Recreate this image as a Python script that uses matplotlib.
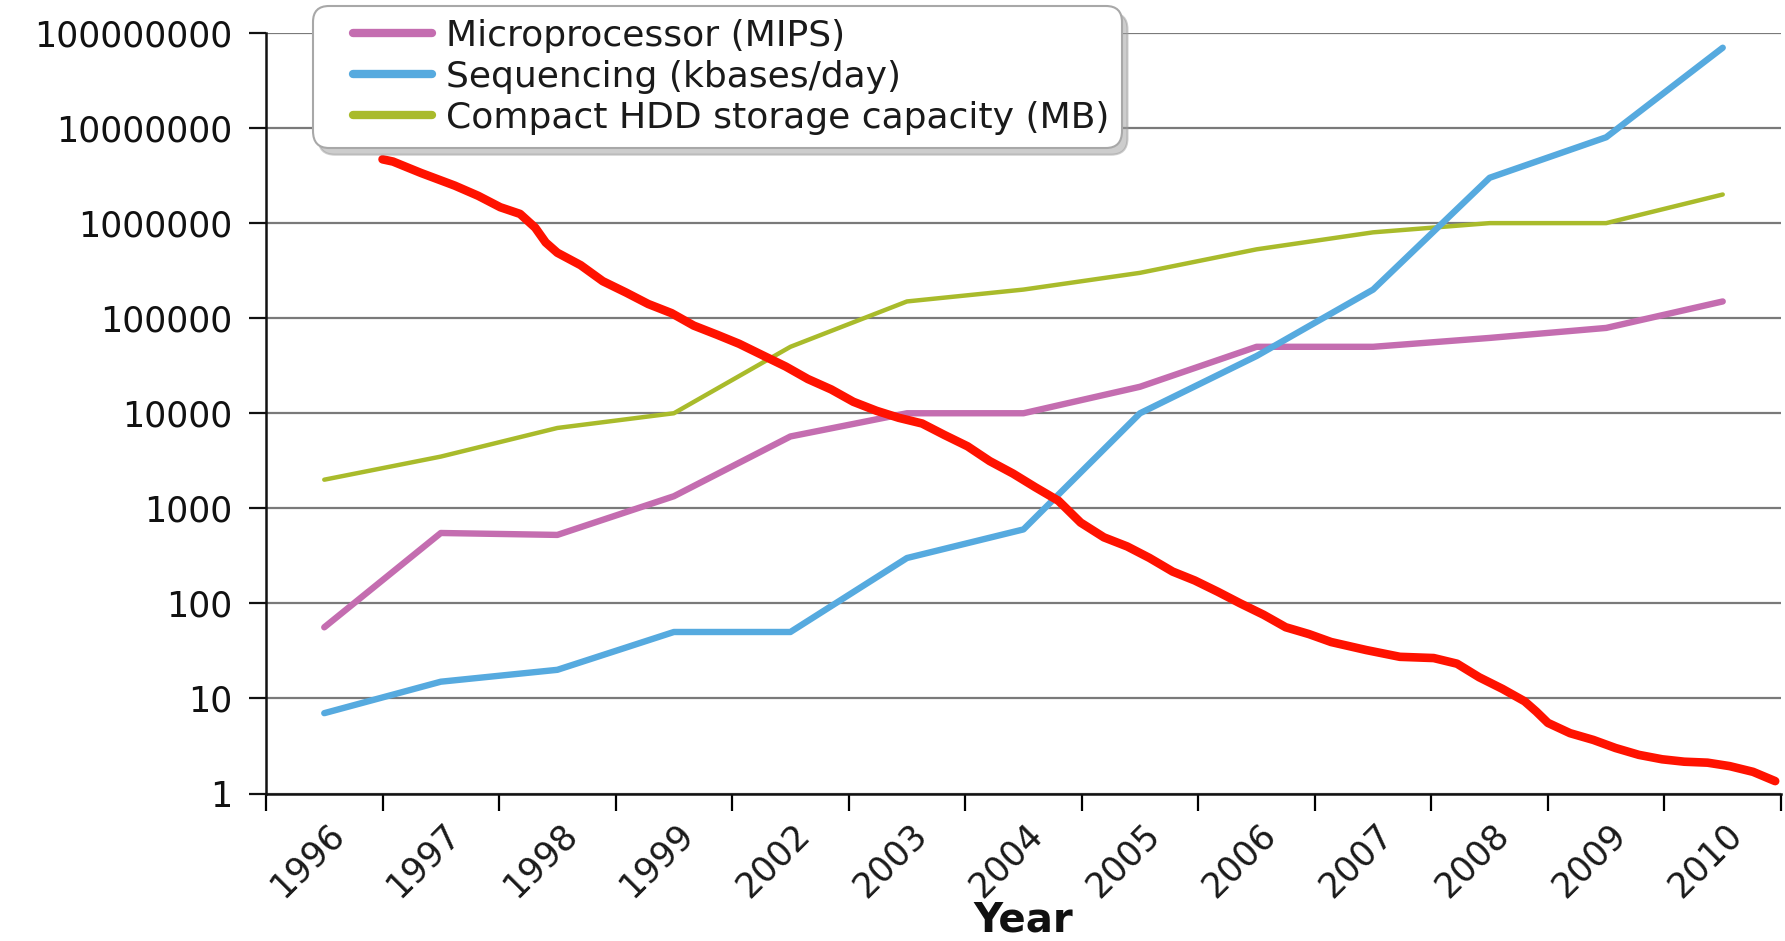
import matplotlib
matplotlib.use("Agg")
import matplotlib.pyplot as plt
import matplotlib.transforms as mtransforms
from matplotlib.legend_handler import HandlerLine2D
import numpy as np

# ---- data ----
years = ["1996", "1997", "1998", "1999", "2002", "2003", "2004",
         "2005", "2006", "2007", "2008", "2009", "2010"]
microprocessor = [56, 550, 525, 1340, 5700, 10000, 10000, 19000, 50000,
                  50000, 62000, 79000, 150000]
sequencing = [7, 15, 20, 50, 50, 300, 600, 10000, 40000, 200000,
              3000000, 8000000, 70000000]
hdd = [2000, 3500, 7000, 10000, 50000, 150000, 200000, 300000, 530000,
       800000, 1000000, 1000000, 2000000]
# red cost curve (x in category units, unlabelled)
cost_x = [0.50, 0.59, 0.83, 1.12, 1.32, 1.51, 1.68, 1.81, 1.90, 2.00, 2.20,
          2.39, 2.59, 2.78, 2.98, 3.17, 3.37, 3.56, 3.76, 3.96, 4.15, 4.35,
          4.54, 4.74, 4.93, 5.13, 5.32, 5.52, 5.71, 5.91, 6.10, 6.30, 6.49,
          6.69, 6.89, 7.08, 7.28, 7.47, 7.67, 7.86, 8.06, 8.25, 8.45, 8.64,
          8.94, 9.23, 9.52, 9.72, 9.91, 10.11, 10.30, 10.40, 10.50, 10.69,
          10.89, 11.08, 11.28, 11.48, 11.67, 11.87, 12.06, 12.26, 12.45]
cost_y = [4.69e6, 4.44e6, 3.37e6, 2.48e6, 1.94e6, 1.47e6, 1.25e6, 8.96e5,
          6.26e5, 4.88e5, 3.61e5, 2.45e5, 1.86e5, 1.41e5, 1.13e5, 8.36e4,
          6.70e4, 5.38e4, 4.08e4, 3.10e4, 2.29e4, 1.78e4, 1.32e4, 1.06e4,
          8.95e3, 7.80e3, 5.92e3, 4.49e3, 3.14e3, 2.32e3, 1.67e3, 1.20e3,
          708, 495, 397, 301, 216, 174, 132, 100, 75.9, 56.1, 47.5, 39.2,
          32.3, 27.4, 26.6, 23.2, 16.7, 12.6, 9.33, 7.28, 5.53, 4.31, 3.66,
          3.01, 2.55, 2.29, 2.16, 2.11, 1.94, 1.69, 1.35]
ytick_values = [1, 10, 100, 1000, 10000, 100000, 1000000, 10000000, 100000000]
labels = ["Microprocessor (MIPS)", "Sequencing (kbases/day)",
          "Compact HDD storage capacity (MB)"]


class ShiftedLine(HandlerLine2D):
    """Legend line drawn on the right part of the handle box."""
    def __init__(self, frac=0.26, **kw):
        super().__init__(**kw)
        self.frac = frac

    def create_artists(self, legend, orig_handle, xdescent, ydescent,
                       width, height, fontsize, trans):
        s = self.frac * width
        return super().create_artists(legend, orig_handle, xdescent - s,
                                      ydescent, width - s, height,
                                      fontsize, trans)


W, H = 1785, 941
fig = plt.figure(figsize=(W / 100, H / 100), dpi=100)
ax = fig.add_axes([266 / W, 1 - 793.5 / H, (1781 - 266) / W, (793.5 - 33) / H])

x = np.arange(len(years))
l1, = ax.plot(x, microprocessor, color="#c46db0", lw=4.6,
              solid_capstyle="round", solid_joinstyle="round", zorder=3)
l2, = ax.plot(x, sequencing, color="#56aadf", lw=4.6,
              solid_capstyle="round", solid_joinstyle="round", zorder=4)
l3, = ax.plot(x, hdd, color="#a9bb2b", lw=3.2,
              solid_capstyle="round", solid_joinstyle="round", zorder=2)
ax.plot(cost_x, cost_y, color="#ff1200", lw=6.2,
        solid_capstyle="round", solid_joinstyle="round", zorder=5)

ax.set_yscale("log")
ax.set_ylim(1, 1e8)
ax.set_xlim(-0.5, len(years) - 0.5)

ax.set_yticks(ytick_values)
ax.set_yticklabels([str(v) for v in ytick_values])
ax.yaxis.set_minor_locator(matplotlib.ticker.NullLocator())
ax.tick_params(axis="y", which="major", length=12, width=1.6, pad=12,
               labelsize=25, colors="#111111")

ax.set_xticks(np.arange(len(years) + 1) - 0.5)
ax.set_xticklabels([])
ax.set_xticks(x, minor=True)
ax.set_xticklabels(years, minor=True, rotation=45, ha="right", va="top",
                   rotation_mode="anchor", fontsize=25, color="#1a1a1a")
ax.tick_params(axis="x", which="major", length=12, width=1.6, direction="out")
ax.tick_params(axis="x", which="minor", length=0, pad=17)
offset = mtransforms.ScaledTranslation(0.02, 0, fig.dpi_scale_trans)
for lbl in ax.get_xticklabels(minor=True):
    lbl.set_transform(lbl.get_transform() + offset)

ax.grid(axis="y", which="major", color="#7a7a7a", lw=1.6)
ax.set_axisbelow(True)
for s in ["top", "right"]:
    ax.spines[s].set_visible(False)
for s in ["left", "bottom"]:
    ax.spines[s].set_linewidth(1.8)
    ax.spines[s].set_color("#111111")

ax.set_xlabel("Year", fontsize=29, fontweight="bold", color="#111111")
ax.xaxis.set_label_coords(0.5, (793.5 - 901) / (793.5 - 33))

leg = fig.legend([l1, l2, l3], labels, loc="upper left",
                 bbox_to_anchor=(313 / W, 1 - 6 / H), borderaxespad=0,
                 fontsize=26, handlelength=2.95, handletextpad=0.38,
                 labelspacing=0.2, borderpad=0.35, fancybox=True,
                 shadow={"ox": 4, "oy": -5, "color": "#9c9c9c"},
                 framealpha=1, edgecolor="#a8a8a8",
                 handler_map={matplotlib.lines.Line2D: ShiftedLine()})
leg.get_frame().set_linewidth(1.5)
leg.get_frame().set_boxstyle("round,pad=0,rounding_size=0.45")
for t in leg.get_texts():
    t.set_color("#1a1a1a")
for h in leg.get_lines():
    h.set_linewidth(6)
    h.set_solid_capstyle("round")

fig.savefig("out.png", dpi=100)
